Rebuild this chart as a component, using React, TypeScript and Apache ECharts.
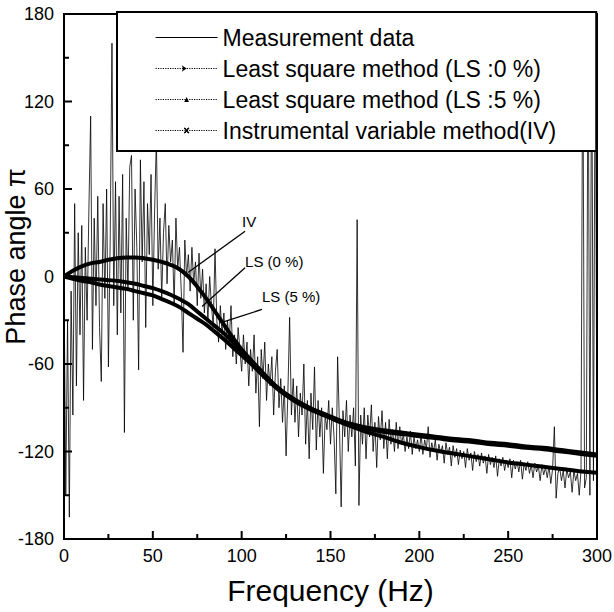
import React, { useEffect, useRef } from "react";
import * as echarts from "echarts";

// Fitted model curves (Hz -> phase angle)
const fitFreq = [
  0, 5, 10, 15, 20, 25, 30, 35, 40, 45, 50, 55, 60, 65, 70, 75, 80, 85, 90, 95,
  100, 105, 110, 115, 120, 125, 130, 135, 140, 145, 150, 155, 160, 170, 180, 190,
  200, 210, 220, 230, 240, 250, 260, 270, 280, 290, 300,
];
const ivFit = [
  0, 4, 7, 9, 10, 11.5, 12.5, 13, 13, 12.5, 11.5, 10, 8, 5, 0, -7, -15, -24, -33, -42,
  -50, -57, -63.5, -70, -76, -81, -85, -88.5, -91.5, -94, -97, -99.5, -102, -106.5, -110, -114,
  -117, -119.5, -121.5, -123.5, -125.5, -127.5, -129, -130.5, -132, -133.5, -134.5,
];
const ls0Fit = [
  0, -0.5, -1, -1.5, -2, -2.5, -3, -4, -5, -6.5, -8, -10, -12.5, -15.5, -19, -24, -29, -34, -39, -45,
  -51, -57.5, -64, -70.5, -76, -80.5, -84.5, -88, -91, -93.5, -96, -98.5, -100.5, -103.5, -105.5, -107,
  -108.5, -110, -111.5, -112.5, -114, -115, -116.5, -117.5, -119, -120.5, -122,
];
const ls5Fit = [
  0, -1.5, -3, -4, -5.5, -6.5, -7.5, -8.5, -10, -11.5, -13, -15.5, -18, -21, -25, -29, -33, -38, -43, -48.5,
  -54, -59.5, -65.5, -71.5, -77, -81.5, -85.5, -89, -92, -94.5, -97, -99.5, -101.5, -104.5, -106.5, -108,
  -109.5, -111, -112.5, -113.5, -115, -116, -117.5, -118.5, -120, -121.5, -123,
];

// Measurement data, one value per Hz from 0 to 300
const measured = [
  0, -150, -30, -165, -10, -95, 50, -75, 30, -40,
  35, -85, 20, -30, 45, 110, -50, 40, -20, 55,
  -35, -72, 50, -15, 60, -62, 25, 160, -20, 65,
  -40, 55, -25, 70, -107, 40, -10, 75, 83, -30,
  60, 20, -64, 80, 10, 65, -35, 50, 15, 70,
  -20, 45, 95, 5, 40, -15, 30, 50, -5, 35,
  10, 25, -20, 40, 5, 20, -10, -52, 25, 0,
  15, -10, 20, -5, 10, -20, 16, -15, 5, -25,
  -5, -30, 0, -20, -35, 19, -30, -45, -20, -40,
  -25, -50, -30, -45, -20, -55, -40, -60, -35, -50,
  -65, -40, -60, -45, -75, -50, -65, -40, -80, -55,
  -103, -50, -70, -45, -85, -60, -75, -55, -95, -65,
  -50, -90, -70, -100, -75, -123, -80, -28, -95, -70,
  -100, -75, -110, -80, -95, -60, -115, -85, -125, -80,
  -105, -62, -119, -85, -110, -90, -135, -95, -105, -85,
  -115, -90, -110, -149, -55, -100, -158, -92, -110, -85,
  -120, -95, -110, -90, -130, 39, -157, -95, -115, -90,
  -125, -95, -110, -88, -120, -100, -131, -96, -112, -92,
  -118, -100, -125, -98, -115, -105, -120, -100, -118, -103,
  -115, -108, -120, -110, -118, -106, -122, -110, -118, -112,
  -120, -108, -122, -112, -118, -103, -124, -114, -120, -112,
  -126, -115, -121, -116, -128, -114, -122, -117, -130, -116,
  -124, -118, -129, -119, -125, -120, -131, -118, -126, -121,
  -133, -120, -127, -122, -130, -121, -128, -123, -135, -122,
  -129, -124, -131, -123, -137, -125, -130, -124, -133, -126,
  -131, -125, -138, -126, -132, -127, -134, -126, -139, -128,
  -133, -127, -135, -129, -138, -128, -134, -130, -140, -129,
  -136, -131, -138, -130, -142, -132, -103, -152, -135, -131,
  -140, -133, -145, -132, -138, -134, -148, -133, -140, -135,
  -150, -133, 180, -145, -138, 180, -150, 180, -140, 180,
  -137,
];

const seriesNames = [
  "Measurement data",
  "Least square method (LS :0 %)",
  "Least square method (LS :5 %)",
  "Instrumental variable method(IV)",
];

// Tick positions (major ticks carry labels, minor ticks between them)
const xMajorTicks = [0, 50, 100, 150, 200, 250, 300];
const xMinorTicks = [25, 75, 125, 175, 225, 275];
const yMajorTicks = [-180, -120, -60, 0, 60, 120, 180];
const yMinorTicks = [-150, -90, -30, 30, 90, 150];

// Annotation labels: text position, leader line start and end (data coords)
const annotations = [
  { text: "IV", at: [100.2, 38], from: [101.9, 31], to: [69.8, 2.7] },
  { text: "LS (0 %)", at: [101.9, 10.5], from: [101.9, 6], to: [77.7, -20.6] },
  { text: "LS (5 %)", at: [111.4, -13.5], from: [111.4, -22.6], to: [88.9, -31.5] },
];

const FONT = "'Liberation Sans', Arial, sans-serif";

export default function App() {
  const ref = useRef<HTMLDivElement>(null);
  useEffect(() => {
    if (!ref.current) return;
    const chart = echarts.init(ref.current, undefined, { renderer: "svg" });
    const pair = (xs: number[], ys: number[]) => xs.map((x, i) => [x, ys[i]]);
    const measData = measured.map((v, i) => [i, v]);
    chart.setOption({
      animation: false,
      backgroundColor: "#fff",
      grid: {
        left: 64,
        right: 17,
        top: 14,
        bottom: 73,
        outerBoundsMode: "none",
        containLabel: false,
        show: true,
        borderColor: "#000",
        borderWidth: 2,
        backgroundColor: "transparent",
      },
      xAxis: {
        type: "value",
        min: 0,
        max: 300,
        interval: 50,
        name: "Frequency (Hz)",
        nameLocation: "middle",
        nameGap: 36,
        nameMoveOverlap: false,
        nameTextStyle: { fontSize: 30, color: "#000", fontFamily: FONT },
        axisLine: { show: true, onZero: false, lineStyle: { color: "#000", width: 2 } },
        axisTick: { show: false },
        minorTick: { show: false },
        axisLabel: { fontSize: 18, color: "#000", fontFamily: FONT, margin: 8 },
        splitLine: { show: false },
      },
      yAxis: {
        type: "value",
        min: -180,
        max: 180,
        interval: 60,
        name: "Phase angle \u03c0",
        nameLocation: "middle",
        nameGap: 35,
        nameMoveOverlap: false,
        nameTextStyle: {
          fontSize: 27,
          color: "#000",
          fontFamily: FONT,
          padding: [0, 0, 0, 40],
        },
        axisLine: { show: true, onZero: false, lineStyle: { color: "#000", width: 2 } },
        axisTick: { show: false },
        minorTick: { show: false },
        axisLabel: { fontSize: 18, color: "#000", fontFamily: FONT, margin: 10 },
        splitLine: { show: false },
      },
      legend: {
        orient: "vertical",
        left: 117,
        top: 12,
        backgroundColor: "#fff",
        borderColor: "#000",
        borderWidth: 2,
        borderRadius: 0,
        padding: [14, 40, 9, 38],
        itemGap: 8,
        itemWidth: 62,
        itemHeight: 6,
        selectedMode: false,
        textStyle: { fontSize: 23, color: "#000", fontFamily: FONT, lineHeight: 23 },
        data: [
          {
            name: seriesNames[0],
            itemStyle: { opacity: 0 },
            lineStyle: { type: "solid", width: 1, color: "#000" },
          },
          {
            name: seriesNames[1],
            itemStyle: { color: "#000" },
            lineStyle: { type: "dotted", width: 1.2, color: "#000" },
          },
          {
            name: seriesNames[2],
            itemStyle: { color: "#000" },
            lineStyle: { type: "dotted", width: 1.2, color: "#000" },
          },
          {
            name: seriesNames[3],
            itemStyle: { color: "#000", borderColor: "#000", borderWidth: 1 },
            lineStyle: { type: "dotted", width: 1.2, color: "#000" },
          },
        ],
      },
      series: [
        {
          name: seriesNames[0],
          type: "line",
          data: measData,
          symbol: "none",
          lineStyle: { color: "#000", width: 0.8 },
          itemStyle: { color: "#000" },
          z: 2,
        },
        {
          name: seriesNames[1],
          type: "line",
          data: pair(fitFreq, ls0Fit),
          smooth: 0.4,
          symbol: "arrow",
          symbolRotate: -90,
          showSymbol: false,
          lineStyle: { color: "#000", width: 4 },
          itemStyle: { color: "#000" },
          z: 3,
        },
        {
          name: seriesNames[2],
          type: "line",
          data: pair(fitFreq, ls5Fit),
          smooth: 0.4,
          symbol: "triangle",
          showSymbol: false,
          lineStyle: { color: "#000", width: 4 },
          itemStyle: { color: "#000" },
          z: 3,
        },
        {
          name: seriesNames[3],
          type: "line",
          data: pair(fitFreq, ivFit),
          smooth: 0.4,
          symbol: "path://M0,0L2,0L5,3L8,0L10,0L6,4L10,8L8,8L5,5L2,8L0,8L4,4Z",
          showSymbol: false,
          lineStyle: { color: "#000", width: 4 },
          itemStyle: { color: "#000" },
          z: 3,
        },
      ],
    });

    const toPx = (p: number[]) =>
      chart.convertToPixel({ xAxisIndex: 0, yAxisIndex: 0 }, p) as number[];
    const graphics: any[] = [];
    const tickRect = (x: number, y: number, width: number, height: number) => ({
      type: "rect",
      shape: { x, y, width, height },
      style: { fill: "#000" },
      z: 20,
    });
    xMajorTicks.forEach((v) => {
      const p = toPx([v, -180]);
      graphics.push(tickRect(p[0] - 1, p[1] - 8, 2, 8));
    });
    xMinorTicks.forEach((v) => {
      const p = toPx([v, -180]);
      graphics.push(tickRect(p[0] - 1, p[1] - 5, 2, 5));
    });
    yMajorTicks.forEach((v) => {
      const p = toPx([0, v]);
      graphics.push(tickRect(p[0], p[1] - 1, 8, 2));
    });
    yMinorTicks.forEach((v) => {
      const p = toPx([0, v]);
      graphics.push(tickRect(p[0], p[1] - 1, 5, 2));
    });
    annotations.forEach((a) => {
      const p0 = toPx(a.from);
      const p1 = toPx(a.to);
      const pt = toPx(a.at);
      graphics.push({
        type: "line",
        shape: { x1: p0[0], y1: p0[1], x2: p1[0], y2: p1[1] },
        style: { stroke: "#000", lineWidth: 1.3 },
        z: 10,
      });
      graphics.push({
        type: "text",
        x: pt[0],
        y: pt[1],
        style: {
          text: a.text,
          fontSize: 15,
          fontFamily: FONT,
          fill: "#000",
          textAlign: "left",
          textVerticalAlign: "middle",
        },
        z: 10,
      });
    });
    chart.setOption({ graphic: graphics });

    return () => chart.dispose();
  }, []);

  return (
    <div
      ref={ref}
      style={{ position: "fixed", left: 0, top: 0, width: 614, height: 612 }}
    />
  );
}
